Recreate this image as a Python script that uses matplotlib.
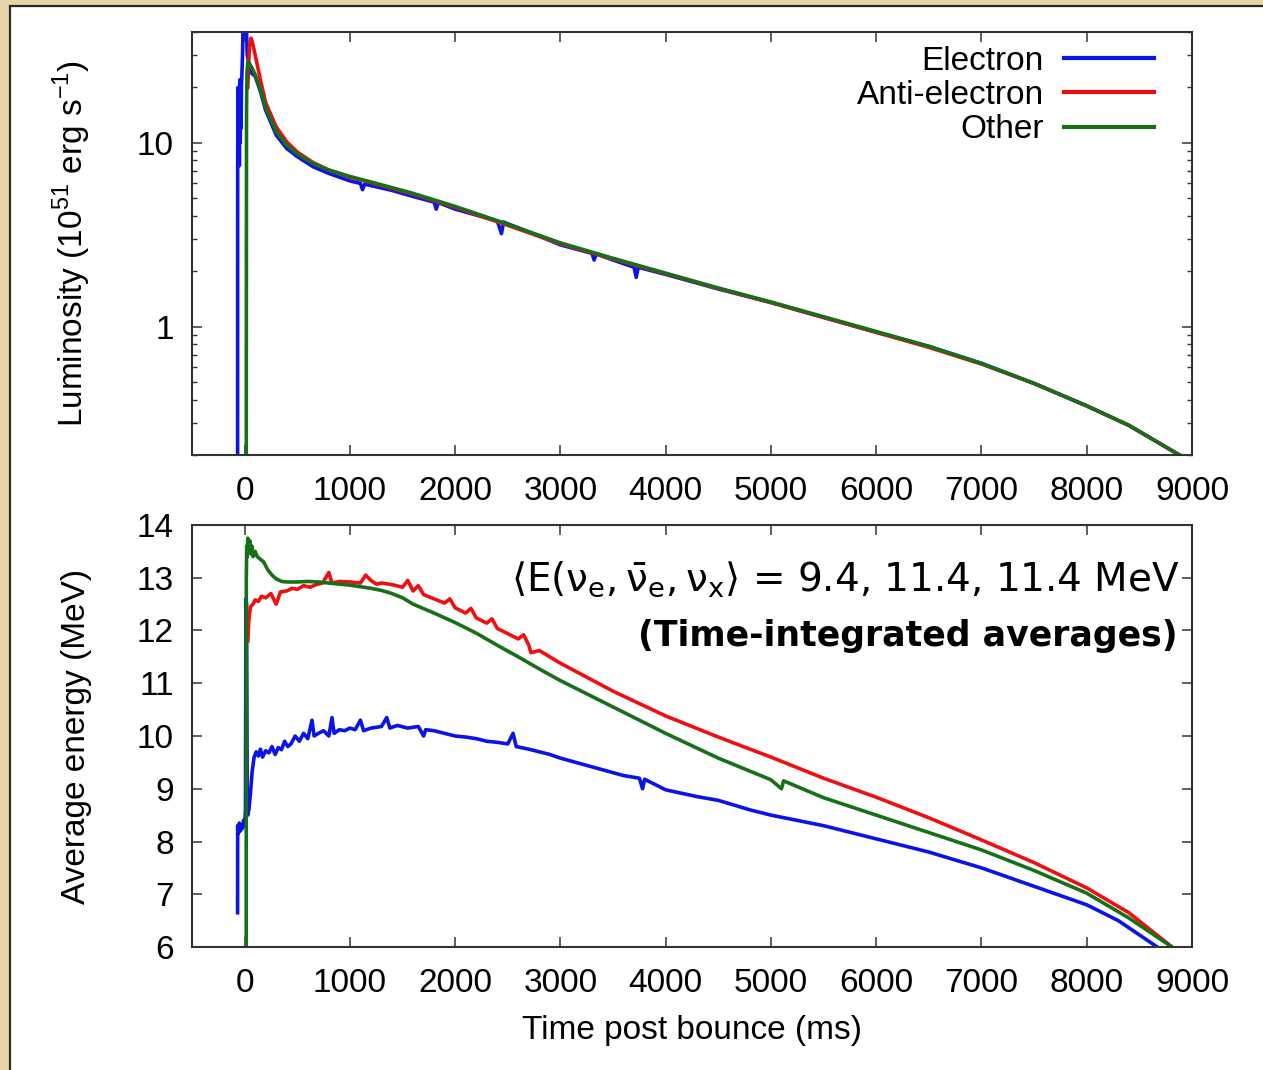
import matplotlib
matplotlib.use("Agg")
import matplotlib.pyplot as plt
from matplotlib.patches import Rectangle
from matplotlib.ticker import LogLocator, NullFormatter, FuncFormatter, FixedLocator

plt.rcParams["font.family"] = ["Liberation Sans", "DejaVu Sans"]

# ---------------- data ----------------
# Luminosity (10^51 erg/s) vs time post bounce (ms)
lum_e_t = [-67, -66, -62, -58, -54, -50, -46, -42, -38, -34, -30, -20, -10, 0, 8, 15, 25, 40, 60,
           100, 150, 200, 300, 400, 500, 650, 800, 1000, 1100, 1120, 1140, 1400, 1600, 1800,
           1820, 1840, 2000, 2400, 2440, 2460, 2800, 3000, 3300, 3320, 3340, 3500, 3700, 3720,
           3740, 4000, 4500, 5000, 5500, 6000, 6500, 7000, 7500, 8000, 8400, 8700, 8880]
lum_e = [0.1, 8, 20, 9, 18, 7.5, 22, 10, 16, 12, 20, 30, 60, 80, 70, 45, 30, 27, 24,
         23, 19, 15, 11, 9.3, 8.4, 7.4, 6.8, 6.2, 6.0, 5.55, 5.95, 5.5, 5.1, 4.75,
         4.35, 4.72, 4.35, 3.75, 3.2, 3.7, 3.1, 2.78, 2.5, 2.3, 2.48, 2.3, 2.1, 1.85,
         2.1, 1.92, 1.6, 1.35, 1.12, 0.93, 0.78, 0.63, 0.49, 0.37, 0.29, 0.23, 0.2]

lum_a_t = [30, 45, 60, 75, 100, 150, 200, 300, 400, 500, 650, 800, 1000, 1300, 1600, 2000, 2500,
           3000, 3500, 4000, 4500, 5000, 5500, 6000, 6500, 7000, 7500, 8000, 8400, 8700, 8880]
lum_a = [20, 33, 37, 35, 30, 22, 16.5, 12.2, 10.1, 8.9, 7.8, 7.1, 6.5, 5.85, 5.25, 4.45, 3.55,
         2.82, 2.33, 1.94, 1.61, 1.35, 1.12, 0.93, 0.77, 0.625, 0.49, 0.37, 0.29, 0.23, 0.2]

lum_x_t = [15, 18, 22, 30, 45, 70, 100, 150, 200, 300, 400, 500, 650, 800, 1000, 1300, 1600,
           2000, 2500, 3000, 3500, 4000, 4500, 5000, 5500, 6000, 6500, 7000, 7500, 8000, 8400,
           8700, 8880]
lum_x = [0.1, 15, 24, 27.5, 27, 25.5, 23.5, 19.5, 15.5, 11.5, 9.7, 8.7, 7.7, 7.1, 6.55, 5.9, 5.3,
         4.5, 3.6, 2.85, 2.35, 1.95, 1.62, 1.36, 1.13, 0.94, 0.78, 0.63, 0.49, 0.37, 0.29,
         0.23, 0.2]

# Average energy (MeV) vs time post bounce (ms)
en_e_t = [-67, -66, -60, -50, -40, -30, -20, -10, 0, 8, 12, 18, 24, 30, 40, 55, 70, 90, 110, 130,
          150, 170, 200, 230, 260, 290, 320, 350, 380, 410, 440, 480, 520, 560, 600, 640, 660,
          700, 750, 800, 830, 850, 900, 950, 1000, 1050, 1100, 1130, 1200, 1300, 1350, 1380,
          1450, 1550, 1650, 1700, 1720, 1800, 1900, 2000, 2100, 2200, 2300, 2400, 2500, 2550,
          2580, 2700, 2800, 2900, 3000, 3200, 3400, 3600, 3750, 3780, 3800, 4000, 4300, 4500,
          4800, 5000, 5500, 6000, 6500, 7000, 7500, 8000, 8300, 8670]
en_e = [6.65, 8.3, 8.15, 8.35, 8.2, 8.3, 8.25, 8.4, 8.3, 8.6, 12.6, 12.5, 9.0, 8.5, 8.6, 8.9, 9.3,
        9.6, 9.7, 9.62, 9.75, 9.6, 9.72, 9.68, 9.8, 9.65, 9.78, 9.74, 9.9, 9.8, 9.85, 10.0, 9.9,
        10.05, 9.95, 10.3, 10.0, 10.05, 10.1, 10.0, 10.35, 10.05, 10.12, 10.1, 10.15, 10.12,
        10.3, 10.1, 10.15, 10.18, 10.35, 10.15, 10.2, 10.15, 10.18, 10.0, 10.12, 10.1, 10.05,
        10.0, 9.98, 9.95, 9.9, 9.88, 9.85, 10.05, 9.8, 9.75, 9.7, 9.65, 9.58, 9.47, 9.36, 9.25,
        9.2, 9.0, 9.18, 8.98, 8.85, 8.78, 8.6, 8.5, 8.3, 8.05, 7.8, 7.5, 7.15, 6.8, 6.5, 6.0]

en_a_t = [30, 40, 55, 80, 100, 130, 160, 200, 250, 300, 340, 400, 450, 500, 560, 620, 680, 740,
          800, 830, 900, 1000, 1100, 1150, 1200, 1250, 1300, 1400, 1500, 1550, 1600, 1650, 1700,
          1800, 1900, 1950, 2000, 2100, 2150, 2200, 2300, 2350, 2400, 2500, 2600, 2650, 2700,
          2720, 2800, 3000, 3500, 4000, 4500, 5000, 5500, 6000, 6500, 7000, 7500, 8000, 8400,
          8810]
en_a = [11.8, 12.2, 12.45, 12.5, 12.58, 12.55, 12.65, 12.62, 12.7, 12.5, 12.73, 12.75, 12.8,
        12.78, 12.85, 12.82, 12.87, 12.9, 13.1, 12.9, 12.93, 12.92, 12.9, 13.05, 12.95, 12.88,
        12.9, 12.87, 12.82, 12.95, 12.75, 12.85, 12.68, 12.6, 12.52, 12.6, 12.43, 12.33, 12.42,
        12.24, 12.14, 12.22, 12.04, 11.94, 11.84, 11.92, 11.72, 11.58, 11.62, 11.38, 10.85,
        10.38, 9.98, 9.6, 9.2, 8.84, 8.45, 8.03, 7.6, 7.12, 6.65, 6.0]

en_x_t = [15, 16, 20, 25, 30, 40, 50, 60, 70, 80, 100, 120, 150, 180, 220, 260, 300, 350, 400,
          500, 600, 700, 800, 900, 1000, 1100, 1200, 1300, 1400, 1500, 1600, 1800, 2000, 2200,
          2400, 2600, 2800, 3000, 3500, 4000, 4500, 5000, 5100, 5120, 5500, 6000, 6500, 7000,
          7500, 8000, 8400, 8810]
en_x = [6.0, 13.0, 13.6, 13.4, 13.75, 13.5, 13.7, 13.45, 13.6, 13.4, 13.5, 13.4, 13.35, 13.3,
        13.15, 13.05, 12.98, 12.93, 12.92, 12.92, 12.93, 12.92, 12.9, 12.88, 12.86, 12.83,
        12.8, 12.76, 12.7, 12.62, 12.5, 12.33, 12.15, 11.95, 11.72, 11.5, 11.27, 11.05, 10.55,
        10.05, 9.58, 9.17, 9.0, 9.15, 8.83, 8.5, 8.17, 7.84, 7.45, 7.02, 6.55, 6.0]

series_names = ["Electron", "Anti-electron", "Other"]
x_ticks = [0, 1000, 2000, 3000, 4000, 5000, 6000, 7000, 8000, 9000]
energy_ticks = [6, 7, 8, 9, 10, 11, 12, 13, 14]

# ---------------- style ----------------
BLUE = "#0a14e6"
RED = "#ee1010"
GREEN = "#177017"
SPINE = "#333333"
LW = 2.6
FS = 24

fig = plt.figure(figsize=(12.63, 10.70), dpi=100)
fig.patch.set_facecolor("#e8d5aa")
fig.add_artist(Rectangle((10 / 1263, -0.02), 1.1, 1 - 5.5 / 1070 + 0.02,
                         transform=fig.transFigure, facecolor="white",
                         edgecolor="#2a2a2a", lw=1.6, zorder=-5))

W, H = 1263.0, 1070.0
def axes_rect(left, top, right, bottom):
    return [left / W, 1 - bottom / H, (right - left) / W, (bottom - top) / H]

ax1 = fig.add_axes(axes_rect(192, 32, 1192, 455))
ax2 = fig.add_axes(axes_rect(192, 525, 1192, 947))

def style(ax):
    for s in ax.spines.values():
        s.set_color(SPINE)
        s.set_linewidth(1.5)
    ax.tick_params(which="both", direction="in", top=True, right=True,
                   labelsize=FS, colors="black")
    ax.tick_params(axis="x", pad=15)
    ax.tick_params(axis="y", pad=13)
    ax.tick_params(which="major", length=7, width=1.1, color=SPINE)
    ax.tick_params(which="minor", length=3.5, width=1.0, color=SPINE)
    ax.set_xlim(-500, 9000)
    ax.xaxis.set_major_locator(FixedLocator(x_ticks))

# ---- luminosity panel ----
ax1.plot(lum_e_t, lum_e, color=BLUE, lw=LW, label=series_names[0])
ax1.plot(lum_a_t, lum_a, color=RED, lw=LW, label=series_names[1])
ax1.plot(lum_x_t, lum_x, color=GREEN, lw=LW, label=series_names[2])
ax1.set_yscale("log")
ax1.set_ylim(0.2, 40)
style(ax1)
ax1.yaxis.set_major_locator(LogLocator(base=10))
ax1.yaxis.set_minor_locator(LogLocator(base=10, subs=[2, 3, 4, 5, 6, 7, 8, 9]))
ax1.yaxis.set_major_formatter(FuncFormatter(lambda v, p: "%g" % v))
ax1.yaxis.set_minor_formatter(NullFormatter())
ax1.set_ylabel(r"Luminosity (10$^{\mathregular{51}}$ erg s$^{\mathregular{-1}}$)", fontsize=FS)
ax1.yaxis.set_label_coords(-0.099, 0.5)

leg = ax1.legend(loc="upper right", bbox_to_anchor=(0.962, 0.968), frameon=False,
                 markerfirst=False, fontsize=FS, handlelength=2.7, handletextpad=0.6,
                 labelspacing=0.1, borderpad=0, borderaxespad=0)
for h in leg.get_lines():
    h.set_linewidth(3.0)

# ---- average energy panel ----
ax2.plot(en_e_t, en_e, color=BLUE, lw=LW)
ax2.plot(en_a_t, en_a, color=RED, lw=LW)
ax2.plot(en_x_t, en_x, color=GREEN, lw=LW)
ax2.set_ylim(6, 14)
style(ax2)
ax2.yaxis.set_major_locator(FixedLocator(energy_ticks))
ax2.set_ylabel("Average energy (MeV)", fontsize=FS)
ax2.yaxis.set_label_coords(-0.1, 0.5)

ax2.text(0.988, 12.98,
         r"$\left\langle\mathrm{E(\nu_e, \bar{\nu}_e, \nu_x}\right\rangle$ = 9.4, 11.4, 11.4 MeV",
         transform=ax2.get_yaxis_transform(), ha="right", va="center",
         fontsize=28, family="DejaVu Sans", math_fontfamily="dejavusans")
ax2.text(0.986, 11.9, "(Time-integrated averages)",
         transform=ax2.get_yaxis_transform(), ha="right", va="center",
         fontsize=25, family="DejaVu Sans", fontweight="bold")

fig.text(692 / W, 1 - 1031 / H, "Time post bounce (ms)", ha="center", va="center", fontsize=FS)

fig.savefig("out.png", dpi=100, facecolor=fig.get_facecolor())
